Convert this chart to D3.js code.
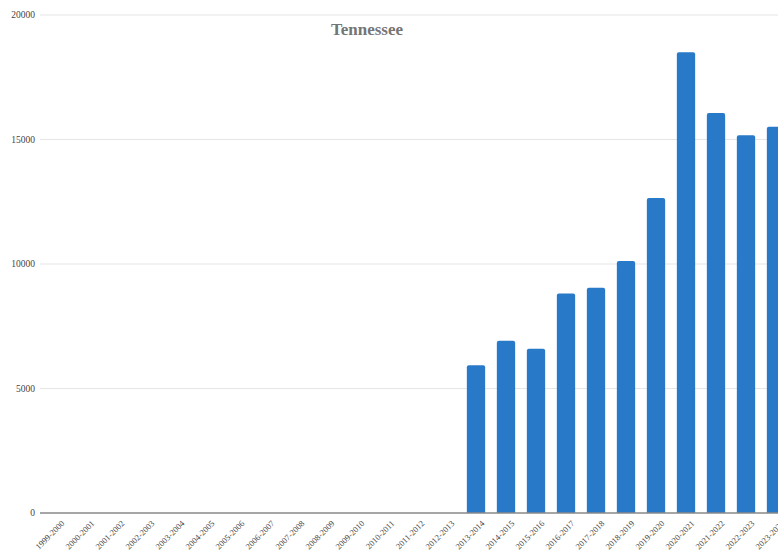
<!DOCTYPE html>
<html>
<head>
<meta charset="utf-8">
<script src="https://cdn.jsdelivr.net/npm/d3@7"></script>
<style>
  body { margin: 0; background: #fff; }
  svg { display: block; }
</style>
</head>
<body>
<div id="chart"></div>
<script>
// School years on the x axis
const years = [
    "1999-2000", "2000-2001", "2001-2002", "2002-2003", "2003-2004",
    "2004-2005", "2005-2006", "2006-2007", "2007-2008", "2008-2009",
    "2009-2010", "2010-2011", "2011-2012", "2012-2013", "2013-2014",
    "2014-2015", "2015-2016", "2016-2017", "2017-2018", "2018-2019",
    "2019-2020", "2020-2021", "2021-2022", "2022-2023", "2023-2024"
];

// Values (null = no data)
const values = [
    null, null, null, null, null,
    null, null, null, null, null,
    null, null, null, null, 5930,
    6920, 6600, 8820, 9050, 10120,
    12650, 18500, 16060, 15170, 15510
];

const yTicks = [0, 5000, 10000, 15000, 20000];

const width = 778;
const height = 553;

const svg = d3.select("#chart")
    .append("svg")
    .attr("width", width)
    .attr("height", height);

// Scales
const x = d3.scaleBand()
    .domain(years)
    .range([41, 791])
    .paddingInner(0.39)
    .paddingOuter(0.195);

const y = d3.scaleLinear()
    .domain([0, 20000])
    .range([513, 15]);

// Gridlines
svg.append("g")
    .selectAll("line")
    .data(yTicks.filter(d => d > 0))
    .enter().append("line")
    .attr("x1", 40)
    .attr("x2", width)
    .attr("y1", d => y(d))
    .attr("y2", d => y(d))
    .attr("stroke", "#e6e6e6")
    .attr("stroke-width", 1.2);

// Y labels
svg.append("g")
    .selectAll("text")
    .data(yTicks)
    .enter().append("text")
    .attr("x", 35)
    .attr("y", d => y(d))
    .attr("dy", "0.35em")
    .attr("text-anchor", "end")
    .attr("font-family", "Liberation Serif, serif")
    .attr("font-size", 9.5)
    .attr("fill", "#444")
    .text(d => d);

// Title
svg.append("text")
    .attr("x", 367)
    .attr("y", 35)
    .attr("text-anchor", "middle")
    .attr("font-family", "Liberation Serif, serif")
    .attr("font-weight", "bold")
    .attr("font-size", 17)
    .attr("fill", "#757575")
    .text("Tennessee");

// Bars
const data = years.map((yr, i) => ({ year: yr, value: values[i] }))
    .filter(d => d.value !== null);

svg.append("g")
    .selectAll("path")
    .data(data)
    .enter().append("path")
    .attr("fill", "#2979c9")
    .attr("d", d => {
        const x0 = x(d.year), w = x.bandwidth();
        const top = y(d.value), bottom = y(0), r = 2;
        return `M${x0},${bottom}V${top + r}Q${x0},${top} ${x0 + r},${top}` +
            `H${x0 + w - r}Q${x0 + w},${top} ${x0 + w},${top + r}V${bottom}Z`;
    });

// Baseline
svg.append("line")
    .attr("x1", 40)
    .attr("x2", width)
    .attr("y1", y(0))
    .attr("y2", y(0))
    .attr("stroke", "#888")
    .attr("stroke-width", 1.5);

// X labels, rotated
svg.append("g")
    .selectAll("text")
    .data(years)
    .enter().append("text")
    .attr("transform", d => `translate(${x(d) + x.bandwidth() / 2 + 9},${y(0) + 11}) rotate(-45)`)
    .attr("text-anchor", "end")
    .attr("font-family", "Liberation Serif, serif")
    .attr("font-size", 8.5)
    .attr("fill", "#444")
    .text(d => d);
</script>
</body>
</html>
